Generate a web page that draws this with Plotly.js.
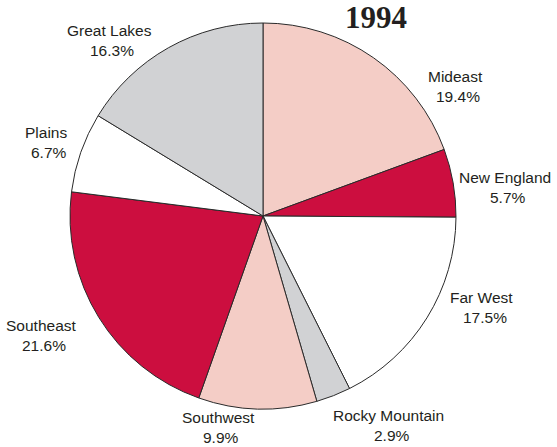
<!DOCTYPE html>
<html>
<head>
<meta charset="utf-8">
<script src="https://cdn.plot.ly/plotly-3.0.1.min.js"></script>
<style>
  html, body { margin: 0; padding: 0; background: #fff; }
  #chart { width: 557px; height: 447px; }
</style>
</head>
<body>
<div id="chart"></div>
<script>
// Regional shares, clockwise from 12 o'clock
const regions = ["Mideast", "New England", "Far West", "Rocky Mountain",
                 "Southwest", "Southeast", "Plains", "Great Lakes"];
const shares = [19.4, 5.7, 17.5, 2.9, 9.9, 21.6, 6.7, 16.3];
const sliceColors = ["#f4cdc6", "#cc0e3f", "#ffffff", "#d1d2d4",
                     "#f4cdc6", "#cc0e3f", "#ffffff", "#d1d2d4"];
const chartTitle = "1994";

// Label anchor points (pixels, centre of the region name line)
const labelPos = [
  [455, 77], [505, 177], [482, 297], [389, 415],
  [218, 417], [41, 325], [46, 132], [109, 30]
];

const W = 557, H = 447;
const labelFont = { family: "Liberation Sans, Arial, Helvetica, sans-serif",
                    size: 15.5, color: "#231f20" };

const annotations = [];
regions.forEach((name, i) => {
  const [px, py] = labelPos[i];
  annotations.push({
    text: name, x: px / W, y: 1 - py / H, xref: "paper", yref: "paper",
    showarrow: false, xanchor: "center", yanchor: "middle", font: labelFont
  });
  annotations.push({
    text: shares[i].toFixed(1) + "%", x: (px + 3) / W, y: 1 - (py + 20) / H,
    xref: "paper", yref: "paper",
    showarrow: false, xanchor: "center", yanchor: "middle", font: labelFont
  });
});
annotations.push({
  text: "<b>" + chartTitle + "</b>", x: 376 / W, y: 1 - 18 / H,
  xref: "paper", yref: "paper", showarrow: false,
  xanchor: "center", yanchor: "middle",
  font: { family: "Liberation Serif, Times New Roman, serif", size: 31, color: "#231f20" }
});

const trace = {
  type: "pie",
  values: shares,
  labels: regions,
  sort: false,
  direction: "clockwise",
  rotation: 0,
  textinfo: "none",
  hoverinfo: "skip",
  marker: { colors: sliceColors, line: { color: "#2a2a2a", width: 1 } },
  domain: { x: [70 / W, 456 / W], y: [1 - 409 / H, 1 - 23 / H] }
};

const layout = {
  width: W, height: H,
  margin: { l: 0, r: 0, t: 0, b: 0 },
  paper_bgcolor: "#ffffff",
  showlegend: false,
  annotations: annotations
};

Plotly.newPlot("chart", [trace], layout, { displayModeBar: false, staticPlot: true });
</script>
</body>
</html>
